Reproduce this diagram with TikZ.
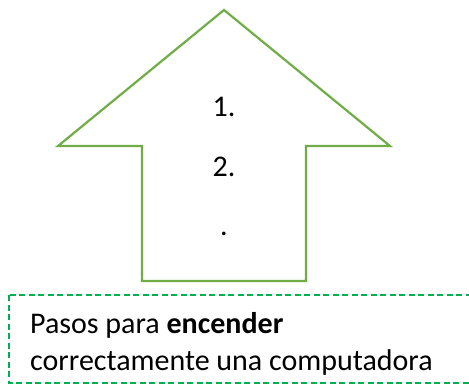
\documentclass[tikz,border=0pt]{standalone}
\usepackage{fontspec}
\setmainfont{Carlito}
\definecolor{arrowgreen}{HTML}{70AD47}
\definecolor{boxgreen}{HTML}{00B050}
\begin{document}
\begin{tikzpicture}[x=1pt,y=-1pt,font=\fontsize{30}{36}\selectfont]
\useasboundingbox (0,0) rectangle (469,385);
     %arrow:
\begin{scope}[line width=2.2pt,arrowgreen]
\draw (224,10) -- (390,146) -- (306,146) -- (306,281) -- (142,281) -- (142,146) -- (58,146) -- cycle;
\end{scope}

\node (stepone) at (224,117) [anchor=base,inner sep=0pt] {1.};
\node (steptwo) at (224,177) [anchor=base,inner sep=0pt] {2.};
\node (stepdots) at (224,236) [anchor=base,inner sep=0pt] {.};

     %caption box:
\begin{scope}
\clip (0,0) rectangle (469,385);
\draw [draw=boxgreen,line width=1.4pt,dash pattern=on 6pt off 3.5pt] (9,295) rectangle (480,383);
\end{scope}
\node (captionfirst) at (30,333) [anchor=base west,inner sep=0pt] {Pasos para \textbf{encender}};
\node (captionsecond) at (30,370) [anchor=base west,inner sep=0pt] {correctamente una computadora};
   \end{tikzpicture}
\end{document}
